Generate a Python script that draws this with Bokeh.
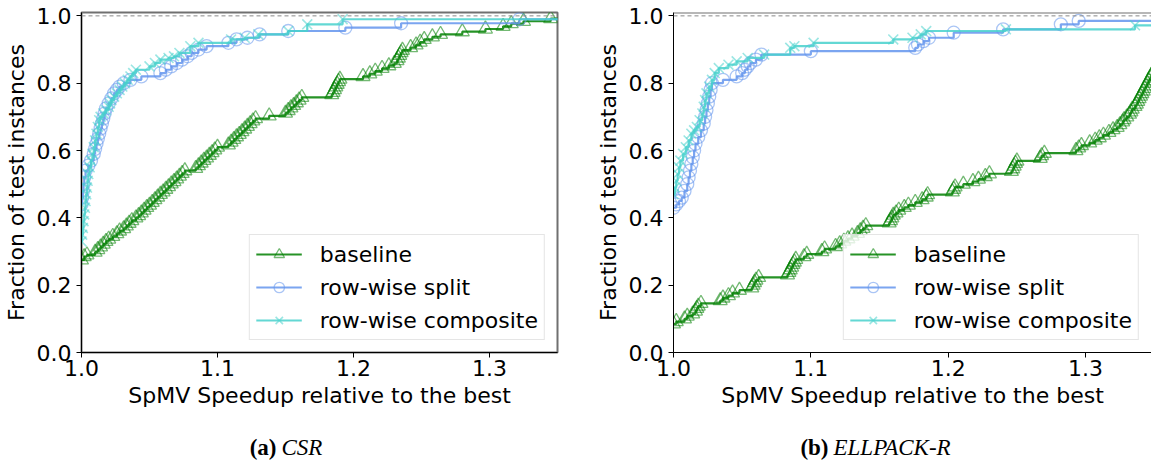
from bokeh.plotting import figure
from bokeh.layouts import row, column
from bokeh.models import Span, Label, FixedTicker, Range1d
from bokeh.embed import file_html
from bokeh.resources import INLINE

# ---------------- data ----------------
X_TICKS = [1.0, 1.1, 1.2, 1.3]
X_TICK_LABELS = ["1.0", "1.1", "1.2", "1.3"]
Y_TICKS = [0.0, 0.2, 0.4, 0.6, 0.8, 1.0]
Y_TICK_LABELS = ["0.0", "0.2", "0.4", "0.6", "0.8", "1.0"]
SERIES_NAMES = ["baseline", "row-wise split", "row-wise composite"]
X_LABEL = "SpMV Speedup relative to the best"
Y_LABEL = "Fraction of test instances"
CAPTION_TAGS = ["(a)", "(b)"]
CAPTION_NAMES = ["CSR", "ELLPACK-R"]

# (a) CSR
csr_baseline_x = [1.000, 1.002, 1.004, 1.010, 1.012, 1.014, 1.016, 1.018, 1.020, 1.023,
                  1.026, 1.028, 1.031, 1.033, 1.035, 1.037, 1.040, 1.042, 1.044, 1.046,
                  1.048, 1.050, 1.052, 1.054, 1.056, 1.058, 1.060, 1.062, 1.064, 1.066,
                  1.068, 1.070, 1.072, 1.074, 1.076, 1.084, 1.086, 1.088, 1.090, 1.092,
                  1.094, 1.096, 1.098, 1.100, 1.108, 1.110, 1.112, 1.114, 1.116, 1.118,
                  1.120, 1.122, 1.124, 1.126, 1.128, 1.138, 1.150, 1.152, 1.154, 1.156,
                  1.158, 1.160, 1.162, 1.184, 1.185, 1.186, 1.187, 1.188, 1.189, 1.190,
                  1.207, 1.212, 1.216, 1.221, 1.226, 1.230, 1.232, 1.233, 1.234, 1.235,
                  1.236, 1.242, 1.246, 1.249, 1.252, 1.258, 1.264, 1.280, 1.297, 1.310,
                  1.316, 1.325, 1.345, 1.400]
csr_baseline_y = [0.275, 0.285, 0.290, 0.298, 0.306, 0.314, 0.322, 0.330, 0.337, 0.345,
                  0.353, 0.361, 0.368, 0.376, 0.384, 0.392, 0.400, 0.407, 0.415, 0.423,
                  0.431, 0.438, 0.446, 0.454, 0.462, 0.470, 0.477, 0.485, 0.493, 0.501,
                  0.508, 0.516, 0.524, 0.532, 0.540, 0.547, 0.555, 0.563, 0.571, 0.578,
                  0.586, 0.594, 0.602, 0.610, 0.617, 0.625, 0.633, 0.641, 0.648, 0.656,
                  0.664, 0.672, 0.680, 0.688, 0.695, 0.703, 0.711, 0.719, 0.727, 0.734,
                  0.742, 0.750, 0.758, 0.766, 0.773, 0.781, 0.789, 0.797, 0.805, 0.812,
                  0.820, 0.828, 0.836, 0.844, 0.852, 0.859, 0.867, 0.875, 0.883, 0.891,
                  0.898, 0.906, 0.914, 0.922, 0.930, 0.938, 0.945, 0.953, 0.961, 0.969,
                  0.977, 0.984, 0.992, 1.000]

csr_split_x = [1.000, 1.0005, 1.001, 1.0015, 1.002, 1.003, 1.005, 1.007, 1.009, 1.010,
               1.011, 1.012, 1.013, 1.014, 1.015, 1.016, 1.017, 1.018, 1.020, 1.022,
               1.024, 1.026, 1.028, 1.031, 1.036, 1.044, 1.058, 1.062, 1.066, 1.070,
               1.074, 1.078, 1.081, 1.086, 1.092, 1.108, 1.114, 1.122, 1.131, 1.152,
               1.194, 1.235, 1.322, 1.380]
csr_split_y = [0.440, 0.460, 0.480, 0.500, 0.520, 0.540, 0.555, 0.570, 0.590, 0.605,
               0.620, 0.635, 0.650, 0.665, 0.680, 0.695, 0.710, 0.725, 0.740, 0.755,
               0.770, 0.780, 0.790, 0.800, 0.810, 0.820, 0.830, 0.840, 0.850, 0.860,
               0.870, 0.880, 0.890, 0.900, 0.910, 0.920, 0.930, 0.935, 0.945, 0.955,
               0.965, 0.978, 0.990, 1.000]

csr_comp_x = [1.000, 1.0005, 1.001, 1.0015, 1.002, 1.0025, 1.003, 1.0035, 1.004, 1.0045,
              1.005, 1.006, 1.007, 1.008, 1.009, 1.010, 1.011, 1.012, 1.013, 1.014,
              1.016, 1.018, 1.020, 1.021, 1.022, 1.024, 1.026, 1.028, 1.030, 1.032,
              1.034, 1.036, 1.038, 1.040, 1.050, 1.054, 1.058, 1.064, 1.068, 1.072,
              1.080, 1.086, 1.110, 1.120, 1.130, 1.152, 1.166, 1.192, 1.370]
csr_comp_y = [0.330, 0.350, 0.370, 0.390, 0.410, 0.430, 0.450, 0.470, 0.490, 0.510,
              0.530, 0.550, 0.570, 0.590, 0.610, 0.630, 0.650, 0.670, 0.690, 0.700,
              0.710, 0.720, 0.730, 0.740, 0.750, 0.760, 0.770, 0.780, 0.790, 0.800,
              0.810, 0.820, 0.830, 0.840, 0.850, 0.860, 0.870, 0.875, 0.880, 0.890,
              0.910, 0.920, 0.930, 0.935, 0.945, 0.955, 0.975, 0.990, 1.000]

# (b) ELLPACK-R
ell_baseline_x = [1.000, 1.002, 1.008, 1.010, 1.014, 1.016, 1.017, 1.018, 1.020, 1.034,
                  1.036, 1.040, 1.043, 1.048, 1.057, 1.058, 1.059, 1.060, 1.062, 1.083,
                  1.084, 1.085, 1.086, 1.087, 1.088, 1.089, 1.095, 1.097, 1.108, 1.110,
                  1.118, 1.121, 1.124, 1.127, 1.130, 1.134, 1.136, 1.138, 1.140, 1.157,
                  1.158, 1.159, 1.160, 1.162, 1.164, 1.168, 1.171, 1.176, 1.181, 1.184,
                  1.185, 1.203, 1.204, 1.205, 1.211, 1.218, 1.222, 1.227, 1.230, 1.246,
                  1.247, 1.248, 1.249, 1.250, 1.267, 1.268, 1.270, 1.293, 1.295, 1.297,
                  1.303, 1.307, 1.310, 1.313, 1.317, 1.320, 1.323, 1.325, 1.327, 1.328,
                  1.330, 1.332, 1.333, 1.334, 1.336, 1.337, 1.338, 1.339, 1.340, 1.341,
                  1.342, 1.343, 1.344, 1.345, 1.346, 1.347, 1.348, 1.349, 1.350, 1.360]
ell_baseline_y = [0.085, 0.092, 0.100, 0.108, 0.115, 0.123, 0.131, 0.138, 0.146, 0.154,
                  0.162, 0.169, 0.177, 0.185, 0.192, 0.200, 0.208, 0.215, 0.223, 0.231,
                  0.238, 0.246, 0.254, 0.262, 0.269, 0.277, 0.285, 0.292, 0.300, 0.308,
                  0.315, 0.323, 0.331, 0.338, 0.346, 0.354, 0.362, 0.369, 0.377, 0.385,
                  0.392, 0.400, 0.408, 0.415, 0.423, 0.431, 0.438, 0.446, 0.454, 0.462,
                  0.469, 0.477, 0.485, 0.492, 0.500, 0.508, 0.515, 0.523, 0.531, 0.538,
                  0.546, 0.554, 0.562, 0.569, 0.577, 0.585, 0.592, 0.600, 0.608, 0.615,
                  0.623, 0.631, 0.638, 0.646, 0.654, 0.662, 0.669, 0.677, 0.685, 0.692,
                  0.700, 0.708, 0.715, 0.723, 0.731, 0.738, 0.746, 0.754, 0.762, 0.769,
                  0.777, 0.785, 0.792, 0.800, 0.808, 0.815, 0.823, 0.831, 0.838, 0.846]

ell_split_x = [1.000, 1.002, 1.004, 1.006, 1.008, 1.010, 1.011, 1.012, 1.013, 1.014,
               1.015, 1.016, 1.018, 1.020, 1.022, 1.023, 1.024, 1.025, 1.026, 1.027,
               1.028, 1.036, 1.046, 1.050, 1.052, 1.054, 1.056, 1.060, 1.064, 1.100,
               1.176, 1.178, 1.182, 1.186, 1.204, 1.240, 1.282, 1.295, 1.400]
ell_split_y = [0.430, 0.440, 0.450, 0.460, 0.480, 0.500, 0.520, 0.540, 0.560, 0.580,
               0.600, 0.620, 0.640, 0.660, 0.680, 0.700, 0.720, 0.740, 0.760, 0.780,
               0.800, 0.810, 0.820, 0.830, 0.840, 0.850, 0.860, 0.870, 0.885, 0.895,
               0.905, 0.915, 0.925, 0.935, 0.950, 0.960, 0.975, 0.985, 1.000]

ell_comp_x = [1.000, 1.001, 1.002, 1.003, 1.004, 1.005, 1.007, 1.009, 1.011, 1.013,
              1.015, 1.017, 1.019, 1.021, 1.022, 1.023, 1.024, 1.026, 1.028, 1.030,
              1.033, 1.040, 1.046, 1.054, 1.066, 1.085, 1.088, 1.102, 1.160, 1.174,
              1.180, 1.184, 1.242, 1.336, 1.400]
ell_comp_y = [0.470, 0.490, 0.510, 0.530, 0.550, 0.570, 0.590, 0.610, 0.630, 0.650,
              0.660, 0.670, 0.690, 0.710, 0.730, 0.750, 0.770, 0.790, 0.810, 0.830,
              0.845, 0.855, 0.865, 0.875, 0.885, 0.905, 0.910, 0.920, 0.930, 0.935,
              0.945, 0.955, 0.960, 0.972, 1.000]

COLORS = ["#008000", "#6495ED", "#48D1CC"]
MARKERS = ["triangle", "circle", "x"]
MSIZES = [14, 13, 14]
MWIDTHS = [1.3, 1.3, 1.6]

FONT = "DejaVu Sans"
FS = "22px"
CAP_FONT = "Liberation Serif"


def make_panel(series, x_end, border_left, frame_w, border_right, outline):
    p = figure(frame_width=frame_w, frame_height=340, height=420,
               min_border_left=border_left, min_border_right=border_right,
               min_border_top=12, min_border_bottom=68,
               x_range=Range1d(1.0, x_end), y_range=Range1d(0.0, 1.01),
               output_backend="svg", toolbar_location=None,
               background_fill_color="white", border_fill_color="white")
    p.grid.visible = False
    if outline:
        p.outline_line_color = "#707070"
        p.outline_line_width = 2
    else:
        p.outline_line_color = None
        p.add_layout(Span(location=1.01, dimension="width", line_color="#707070",
                          line_width=2))

    p.add_layout(Span(location=1.0, dimension="width", line_color="#888888",
                      line_width=1, line_dash="4 3"))

    for (xs, ys), nm, col, mk, ms, mw in zip(series, SERIES_NAMES, COLORS, MARKERS,
                                             MSIZES, MWIDTHS):
        p.step(xs, ys, mode="after", line_color=col, line_width=2.2, line_alpha=0.85,
               legend_label=nm)
        p.scatter(xs, ys, marker=mk, size=ms, fill_color=None, line_color=col,
                  line_alpha=0.55, line_width=mw, legend_label=nm)

    p.xaxis.ticker = FixedTicker(ticks=X_TICKS)
    p.xaxis.major_label_overrides = dict(zip(X_TICKS, X_TICK_LABELS))
    p.yaxis.ticker = FixedTicker(ticks=Y_TICKS)
    p.yaxis.major_label_overrides = dict(zip(Y_TICKS, Y_TICK_LABELS))
    p.xaxis.axis_label = X_LABEL
    p.yaxis.axis_label = Y_LABEL
    for ax in (p.xaxis, p.yaxis):
        ax.axis_line_color = "black"
        ax.axis_line_width = 1
        ax.major_tick_in = 0
        ax.major_tick_out = 5
        ax.major_tick_line_color = "black"
        ax.minor_tick_line_color = None
        ax.major_label_text_font = FONT
        ax.major_label_text_font_size = FS
        ax.major_label_text_color = "black"
        ax.axis_label_text_font = FONT
        ax.axis_label_text_font_size = FS
        ax.axis_label_text_font_style = "normal"
        ax.axis_label_text_color = "black"
    p.yaxis.major_label_standoff = 5
    p.yaxis.axis_label_standoff = 5
    p.xaxis.major_label_standoff = 2
    p.xaxis.axis_label_standoff = 4

    lg = p.legend[0]
    lg.location = "bottom_right"
    lg.label_text_font = FONT
    lg.label_text_font_size = FS
    lg.label_text_color = "black"
    lg.glyph_width = 46
    lg.glyph_height = 26
    lg.label_height = 26
    lg.spacing = 7
    lg.padding = 6
    lg.margin = 12
    lg.label_standoff = 18
    lg.border_line_color = "#cccccc"
    lg.border_line_width = 1
    lg.background_fill_color = "white"
    lg.background_fill_alpha = 0.8
    return p


p1 = make_panel([(csr_baseline_x, csr_baseline_y), (csr_split_x, csr_split_y),
                 (csr_comp_x, csr_comp_y)], 1.35, 81, 476, 18, True)
p2 = make_panel([(ell_baseline_x, ell_baseline_y), (ell_split_x, ell_split_y),
                 (ell_comp_x, ell_comp_y)], 1.348, 98, 478, 0, False)

# caption strip underneath (pixel-like coordinates)
cap = figure(width=1151, height=41, x_range=Range1d(0, 1151), y_range=Range1d(0, 41),
             x_axis_type=None, y_axis_type=None, min_border=0,
             output_backend="svg", toolbar_location=None)
cap.grid.visible = False
cap.outline_line_color = None
for tag, name, split in zip(CAPTION_TAGS, CAPTION_NAMES, [278, 830]):
    cap.add_layout(Label(x=split - 2, y=14, text=tag, text_align="right",
                         text_baseline="middle", text_font=CAP_FONT,
                         text_font_size="23px", text_font_style="bold",
                         text_color="black"))
    cap.add_layout(Label(x=split + 3, y=14, text=name, text_align="left",
                         text_baseline="middle", text_font=CAP_FONT,
                         text_font_size="23px", text_font_style="italic",
                         text_color="black"))

layout = column(row(p1, p2), cap)
open("out.html", "w").write(file_html(layout, INLINE))
